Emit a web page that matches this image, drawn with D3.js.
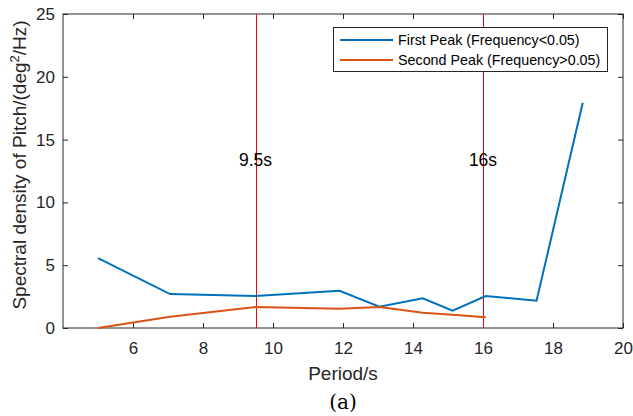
<!DOCTYPE html>
<html><head><meta charset="utf-8">
<script src="https://cdn.jsdelivr.net/npm/d3@7"></script>
<style>body{margin:0;background:#fff}svg{display:block}</style>
</head><body><svg id="c" width="633" height="416"></svg>
<script>
const firstPeakX = [5.0, 7.06, 9.5, 11.9, 13.04, 14.28, 15.13, 16.08, 17.53, 18.85];
const firstPeakY = [5.57, 2.7, 2.55, 2.97, 1.7, 2.36, 1.38, 2.55, 2.17, 17.94];
const secondPeakX = [5.0, 7.06, 9.5, 11.9, 13.04, 14.28, 15.13, 16.08];
const secondPeakY = [0.0, 0.9, 1.67, 1.54, 1.67, 1.22, 1.05, 0.85];
const markers = [9.5, 16];
const markerLabels = ["9.5s", "16s"];
const xTicks = [6, 8, 10, 12, 14, 16, 18, 20];
const yTicks = [0, 5, 10, 15, 20, 25];
const seriesNames = ["First Peak (Frequency<0.05)", "Second Peak (Frequency>0.05)"];

const svg = d3.select("#c");
const L = 63, R = 623, T = 14, B = 328;
const x = d3.scaleLinear().domain([4, 20]).range([L, R]);
const y = d3.scaleLinear().domain([0, 25]).range([B, T]);
const axisCol = "#262626";
const font = "'Liberation Sans', Arial, Helvetica, sans-serif";

svg.append("rect").attr("x", L).attr("y", T).attr("width", R - L).attr("height", B - T)
  .attr("fill", "none").attr("stroke", axisCol).attr("stroke-width", 1);

function styleAxis(g) {
  g.selectAll(".domain").remove();
  g.selectAll("line").attr("stroke", axisCol);
  g.selectAll("text").attr("fill", axisCol).style("font-family", font).style("font-size", "17px");
}
svg.append("g").attr("transform", `translate(0,${B})`)
  .call(d3.axisBottom(x).tickValues(xTicks).tickSizeInner(-5).tickSizeOuter(0).tickPadding(14))
  .call(styleAxis);
svg.append("g").attr("transform", `translate(0,${T})`)
  .call(d3.axisTop(x).tickValues(xTicks).tickSizeInner(-5).tickSizeOuter(0).tickFormat(""))
  .call(styleAxis);
svg.append("g").attr("transform", `translate(${L},0)`)
  .call(d3.axisLeft(y).tickValues(yTicks).tickSizeInner(-5).tickSizeOuter(0).tickPadding(8))
  .call(styleAxis);
svg.append("g").attr("transform", `translate(${R},0)`)
  .call(d3.axisRight(y).tickValues(yTicks).tickSizeInner(-5).tickSizeOuter(0).tickFormat(""))
  .call(styleAxis);

const line = d3.line().x(d => x(d[0])).y(d => y(d[1]));
const s1 = firstPeakX.map((v, i) => [v, firstPeakY[i]]);
const s2 = secondPeakX.map((v, i) => [v, secondPeakY[i]]);
const colors = ["#0072BD", "#D95319"];

markers.forEach((m, i) => {
  const px = Math.round(x(m)) + 0.5;
  svg.append("line").attr("x1", px).attr("x2", px).attr("y1", T).attr("y2", B)
    .attr("stroke", "#ff0000").attr("stroke-width", 1).attr("shape-rendering", "crispEdges");
});

svg.append("path").datum(s1).attr("d", line).attr("fill", "none").attr("stroke", colors[0]).attr("stroke-width", 2);
svg.append("path").datum(s2).attr("d", line).attr("fill", "none").attr("stroke", colors[1]).attr("stroke-width", 2);

markers.forEach((m, i) => {
  svg.append("text").attr("x", x(m)).attr("y", 166).attr("text-anchor", "middle")
    .style("font-family", font).style("font-size", "17.5px").attr("fill", "#000").text(markerLabels[i]);
});

const lg = svg.append("g");
lg.append("rect").attr("x", 333.5).attr("y", 27.5).attr("width", 274).attr("height", 44)
  .attr("fill", "#fff").attr("stroke", axisCol).attr("stroke-width", 1);
seriesNames.forEach((n, i) => {
  const yy = 40 + i * 20;
  lg.append("line").attr("x1", 340).attr("x2", 393).attr("y1", yy).attr("y2", yy)
    .attr("stroke", colors[i]).attr("stroke-width", 2);
  lg.append("text").attr("x", 398).attr("y", yy + 5).style("font-family", font).style("font-size", "14.3px")
    .attr("fill", "#000").text(n);
});

svg.append("text").attr("x", x(12)).attr("y", 380).attr("text-anchor", "middle")
  .style("font-family", font).style("font-size", "19px").attr("fill", axisCol).text("Period/s");
const yl = svg.append("text").attr("transform", `translate(26,165) rotate(-90)`).attr("text-anchor", "middle")
  .style("font-family", font).style("font-size", "19px").attr("fill", axisCol);
yl.append("tspan").text("Spectral density of Pitch/(deg");
yl.append("tspan").attr("dy", -7).style("font-size", "13px").text("2");
yl.append("tspan").attr("dy", 7).text("/Hz)");
svg.append("text").attr("x", x(12)).attr("y", 409).attr("text-anchor", "middle")
  .style("font-family", "'DejaVu Serif', 'Liberation Serif', serif").style("font-size", "20px").attr("fill", "#000").text("(a)");
</script></body></html>
